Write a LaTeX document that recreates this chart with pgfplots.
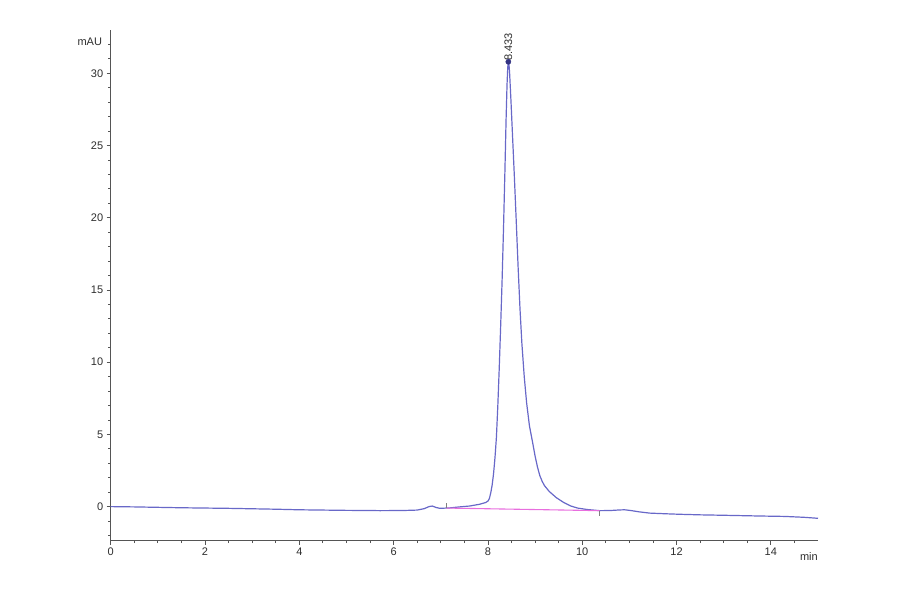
\documentclass[border=0pt]{standalone}
\usepackage{fontspec}
\setmainfont{Liberation Sans}
\usepackage{pgfplots}
\pgfplotsset{compat=1.18}

\definecolor{trace}{RGB}{104,104,200}
\definecolor{basefit}{RGB}{232,110,222}
\definecolor{peakmark}{RGB}{50,50,130}
\definecolor{axisgray}{RGB}{85,85,85}
\definecolor{labelgray}{RGB}{45,45,45}

\begin{document}
\begin{tikzpicture}
\path[use as bounding box] (0,0) rectangle (900pt,594pt);
\begin{axis}[
  at={(110.7pt,53.3pt)}, anchor=south west,
  scale only axis,
  width=707.3pt, height=510.7pt,
  xmin=0, xmax=15, ymin=-2.36, ymax=33,
  axis x line=bottom, axis y line=left,
  axis line style={-, axisgray, line width=1.1pt},
  xtick={0,2,...,14}, ytick={0,5,...,30},
  minor xtick={0.5,1,...,14.5},
  minor ytick={-2,-1,...,32},
  tick align=outside,
  major tick length=4pt, minor tick length=2.5pt,
  tick style={axisgray, line width=0.8pt},
  /pgf/number format/assume math mode=true,
  ticklabel style={font=\fontsize{11}{12}\selectfont, text=labelgray},
  clip=false,
]
% baseline, peak and tail of the trace
\addplot[trace, line width=1.2pt, line join=round] coordinates {
  (0,0) (0.5,-0.02) (1.0,-0.05) (1.5,-0.08) (2.0,-0.1) (2.5,-0.12)
  (3.0,-0.15) (3.5,-0.18) (4.0,-0.22) (4.5,-0.24) (5.0,-0.26) (5.5,-0.27)
  (5.71,-0.28) (6.2,-0.27) (6.5,-0.24) (6.65,-0.14) (6.75,0.0) (6.82,0.04)
  (6.9,-0.06) (6.98,-0.12) (7.19,-0.09) (7.4,-0.02) (7.61,0.04) (7.82,0.16)
  (7.95,0.28) (8.0,0.38) (8.03,0.55) (8.06,0.95) (8.09,1.5) (8.12,2.3)
  (8.15,3.4) (8.18,4.8) (8.21,7.0) (8.24,9.6) (8.27,12.5) (8.30,15.6)
  (8.33,19.2) (8.36,23.2) (8.385,26.8) (8.405,29.2) (8.42,30.4) (8.433,30.8)
  (8.447,30.6) (8.46,30.0) (8.49,28.0) (8.52,25.8) (8.56,22.9) (8.60,19.8)
  (8.64,16.6) (8.68,13.7) (8.72,11.3) (8.77,9.0) (8.82,7.2) (8.88,5.6)
  (8.95,4.4) (9.0,3.5) (9.05,2.75) (9.1,2.15) (9.15,1.75) (9.2,1.45)
  (9.3,1.05) (9.45,0.62) (9.6,0.3) (9.75,0.05) (9.9,-0.1) (10.1,-0.2)
  (10.37,-0.28) (10.6,-0.27) (10.8,-0.23) (10.9,-0.22) (11.05,-0.28)
  (11.2,-0.36) (11.43,-0.45) (11.8,-0.5) (12.06,-0.53) (12.5,-0.57)
  (13.0,-0.6) (13.75,-0.65) (14.3,-0.68) (14.7,-0.74) (15.0,-0.81)
};
% integration baseline
\addplot[basefit, line width=1.1pt] coordinates {(7.12,-0.1) (10.37,-0.28)};
\addplot[only marks, mark=|, mark size=2.5pt, gray, mark options={line width=0.6pt}]
  coordinates {(7.12,0.05) (10.37,-0.45)};
% apex marker
\addplot[only marks, mark=*, mark size=2.6pt, peakmark] coordinates {(8.433,30.8)};
\node[rotate=90, anchor=west, inner sep=1pt, font=\fontsize{11}{12}\selectfont, text=labelgray]
  at (axis cs:8.433,30.8) {8.433};
\node[anchor=east, font=\fontsize{11}{12}\selectfont, text=labelgray, inner sep=0pt]
  at (axis cs:0,32.15) [xshift=-8.5pt] {mAU};
\node[anchor=north east, font=\fontsize{11}{12}\selectfont, text=labelgray, inner sep=0pt]
  at (axis cs:15,-2.36) [yshift=-12pt] {min};
\end{axis}
\end{tikzpicture}
\end{document}
